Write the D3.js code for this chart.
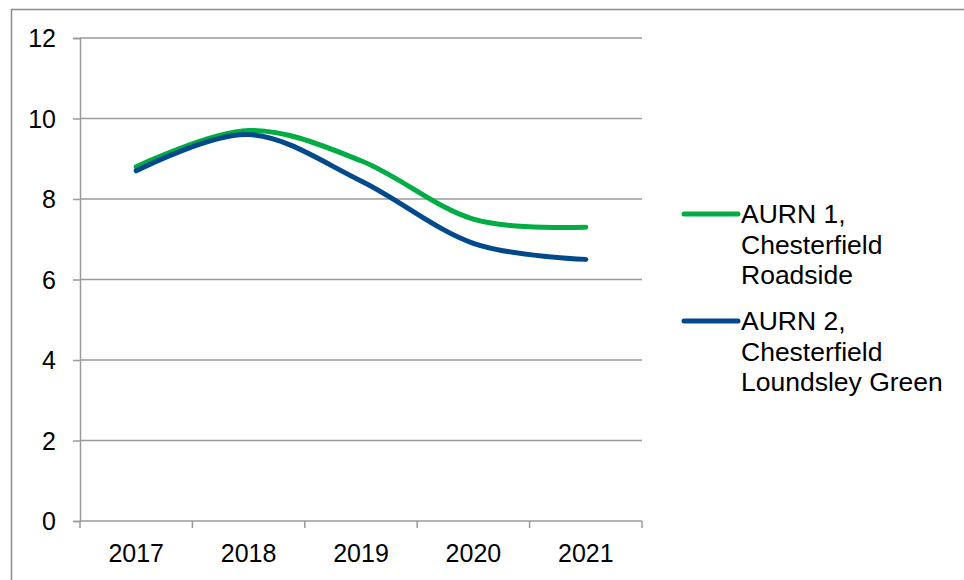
<!DOCTYPE html>
<html>
<head>
<meta charset="utf-8">
<script src="https://cdn.jsdelivr.net/npm/d3@7"></script>
<style>
  body { margin: 0; background: #fff; }
  svg text { font-family: "Liberation Sans", Arial, sans-serif; fill: #000; }
</style>
</head>
<body>
<div id="chart"></div>
<script>
// data
const years = ["2017", "2018", "2019", "2020", "2021"];
const roadside = [8.8, 9.7, 8.95, 7.5, 7.3];
const loundsley = [8.7, 9.6, 8.45, 6.9, 6.5];
const yTicks = [0, 2, 4, 6, 8, 10, 12];

const series = [
  { name: ["AURN 1,", "Chesterfield", "Roadside"], values: roadside, color: "#00ad45" },
  { name: ["AURN 2,", "Chesterfield", "Loundsley Green"], values: loundsley, color: "#004a8c" }
];

const width = 964;
const height = 580;
const plot = { left: 80, right: 642, top: 38, bottom: 521 };
const gridColor = "#9a9a9a";

const svg = d3.select("#chart")
  .append("svg")
  .attr("width", width)
  .attr("height", height);

// outer chart border (runs past the right and bottom edges)
svg.append("rect")
  .attr("x", 11.5)
  .attr("y", 9.5)
  .attr("width", 1000)
  .attr("height", 1000)
  .attr("fill", "none")
  .attr("stroke", "#8c8c8c")
  .attr("stroke-width", 1.5);

const x = d3.scaleBand()
  .domain(years)
  .range([plot.left, plot.right]);

const y = d3.scaleLinear()
  .domain([0, 12])
  .range([plot.bottom, plot.top]);

// horizontal gridlines
svg.append("g")
  .selectAll("line")
  .data(yTicks.filter(d => d > 0))
  .enter()
  .append("line")
  .attr("x1", plot.left)
  .attr("x2", plot.right)
  .attr("y1", d => y(d))
  .attr("y2", d => y(d))
  .attr("stroke", gridColor)
  .attr("stroke-width", 1.5);

// y axis
const yAxis = svg.append("g")
  .attr("transform", `translate(${plot.left},0)`)
  .call(d3.axisLeft(y).tickValues(yTicks).tickSize(7).tickPadding(17).tickFormat(d3.format("d")));
yAxis.select(".domain").attr("stroke", gridColor).attr("stroke-width", 1.5);
yAxis.selectAll(".tick line").attr("stroke", gridColor).attr("stroke-width", 1.5);
yAxis.selectAll(".tick text")
  .attr("font-size", 25)
  .attr("font-family", "Liberation Sans, Arial, sans-serif")
  .attr("dy", "0.35em");

// x axis: ticks sit between categories
const xAxis = svg.append("g")
  .attr("transform", `translate(0,${plot.bottom})`);
xAxis.append("line")
  .attr("x1", plot.left)
  .attr("x2", plot.right)
  .attr("stroke", gridColor)
  .attr("stroke-width", 1.5);
const bounds = years.map(d => x(d)).concat([plot.right]);
xAxis.selectAll(".xtick")
  .data(bounds)
  .enter()
  .append("line")
  .attr("x1", d => d)
  .attr("x2", d => d)
  .attr("y1", 0)
  .attr("y2", 7)
  .attr("stroke", gridColor)
  .attr("stroke-width", 1.5);
xAxis.selectAll(".xlabel")
  .data(years)
  .enter()
  .append("text")
  .attr("x", d => x(d) + x.bandwidth() / 2)
  .attr("y", 41)
  .attr("text-anchor", "middle")
  .attr("font-size", 25)
  .text(d => d);

// smoothed lines
const line = d3.line()
  .x((d, i) => x(years[i]) + x.bandwidth() / 2)
  .y(d => y(d))
  .curve(d3.curveCardinal.tension(0));

svg.append("g")
  .selectAll("path")
  .data(series)
  .enter()
  .append("path")
  .attr("d", d => line(d.values))
  .attr("fill", "none")
  .attr("stroke", d => d.color)
  .attr("stroke-width", 5)
  .attr("stroke-linecap", "round")
  .attr("stroke-linejoin", "round");

// legend
const legend = svg.append("g")
  .attr("transform", "translate(682,214)");
const entry = legend.selectAll("g")
  .data(series)
  .enter()
  .append("g")
  .attr("transform", (d, i) => `translate(0,${i * 107})`);
entry.append("line")
  .attr("x1", 2)
  .attr("x2", 56)
  .attr("stroke", d => d.color)
  .attr("stroke-width", 5)
  .attr("stroke-linecap", "round");
entry.append("text")
  .attr("x", 59)
  .attr("font-size", 26.5)
  .selectAll("tspan")
  .data(d => d.name)
  .enter()
  .append("tspan")
  .attr("x", 59)
  .attr("y", (d, i) => 9 + i * 30.5)
  .text(d => d);
</script>
</body>
</html>
